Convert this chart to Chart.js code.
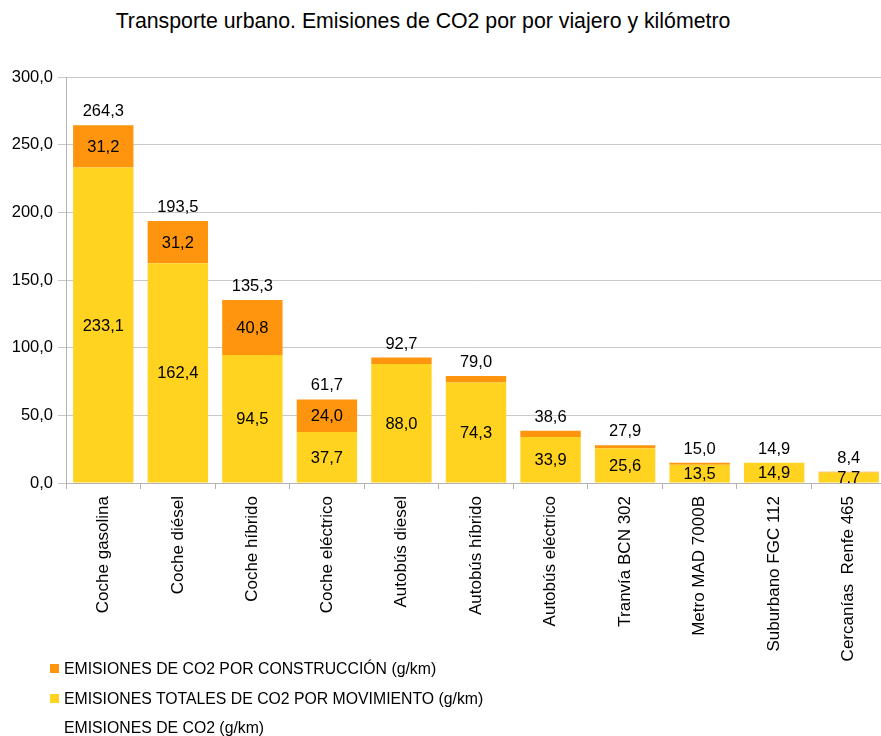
<!DOCTYPE html>
<html lang="es">
<head>
<meta charset="utf-8">
<title>Transporte urbano. Emisiones de CO2</title>
<script src="https://cdn.jsdelivr.net/npm/chart.js@4"></script>
<style>
  html, body { margin: 0; padding: 0; background: #fff; overflow: hidden; }
  body { width: 881px; height: 736px; position: relative; font-family: "Liberation Sans", Arial, sans-serif; color: #000; }
  #titulo { position: absolute; left: 0; top: 9px; width: 846px; text-align: center; font-size: 21.3px; white-space: nowrap; }
  #grafico { position: absolute; left: 0; top: 0; }
  #leyenda { position: absolute; left: 50px; top: 657px; font-size: 15.8px; }
  .item { height: 29.5px; line-height: 24px; white-space: nowrap; }
  .caja { display: inline-block; width: 9px; height: 9px; margin-right: 5px; vertical-align: 1px; }
</style>
</head>
<body>
<div id="titulo">Transporte urbano. Emisiones de CO2 por por viajero y kilómetro</div>
<canvas id="grafico" width="890" height="680"></canvas>
<div id="leyenda"></div>

<script>
const categorias = [
  'Coche gasolina', 'Coche diésel', 'Coche híbrido', 'Coche eléctrico',
  'Autobús diesel', 'Autobús híbrido', 'Autobús eléctrico', 'Tranvía BCN 302',
  'Metro MAD 7000B', 'Suburbano FGC 112', 'Cercanías  Renfe 465'
];
const movimiento   = [233.1, 162.4, 94.5, 37.7, 88.0, 74.3, 33.9, 25.6, 13.5, 14.9, 7.7];
const construccion = [31.2, 31.2, 40.8, 24.0, 4.7, 4.7, 4.7, 2.3, 1.5, 0, 0.7];
const totales      = [264.3, 193.5, 135.3, 61.7, 92.7, 79.0, 38.6, 27.9, 15.0, 14.9, 8.4];
const ticksY = [0, 50, 100, 150, 200, 250, 300];

const AMARILLO = '#ffd320';
const NARANJA = '#ff950e';
const FUENTE = '"Liberation Sans", Arial, sans-serif';

let chart = null;

function fmt(v) {
  return v.toFixed(1).replace('.', ',');
}

// etiquetas de valor dentro y encima de las barras
const etiquetasPlugin = {
  id: 'etiquetas',
  afterDatasetsDraw(c) {
    const ctx = c.ctx;
    const area = c.chartArea;
    const y = c.scales.y;
    ctx.save();
    ctx.font = '16.5px ' + FUENTE;
    ctx.fillStyle = '#000';
    ctx.textAlign = 'center';
    ctx.textBaseline = 'middle';

    ctx.save();
    ctx.beginPath();
    ctx.rect(area.left, area.top, area.right - area.left, area.bottom - area.top);
    ctx.clip();
    [0, 1].forEach(di => {
      const meta = c.getDatasetMeta(di);
      const data = c.data.datasets[di].data;
      meta.data.forEach((bar, i) => {
        if (di === 1 && data[i] < 10) return; // segmentos pequeños sin etiqueta
        ctx.fillText(fmt(data[i]), bar.x, (bar.y + bar.base) / 2 + 1);
      });
    });
    ctx.restore();

    // total encima de cada barra
    ctx.textBaseline = 'alphabetic';
    const metaBar = c.getDatasetMeta(0);
    c.data.datasets[2].data.forEach((v, i) => {
      ctx.fillText(fmt(v), metaBar.data[i].x, y.getPixelForValue(v) - 9);
    });
    ctx.restore();
  }
};

function renderLeyenda() {
  const cont = document.getElementById('leyenda');
  cont.innerHTML = '';
  [1, 0, 2].forEach(di => {
    const ds = chart.data.datasets[di];
    const div = document.createElement('div');
    div.className = 'item';
    const color = ds.legendColor || 'transparent';
    div.innerHTML = `<span class="caja" style="background:${color}"></span>${ds.label}`;
    cont.appendChild(div);
  });
}

function renderChart() {
  const ctx = document.getElementById('grafico').getContext('2d');
  if (chart) chart.destroy();

  chart = new Chart(ctx, {
    type: 'bar',
    data: {
      labels: categorias,
      datasets: [
        {
          label: 'EMISIONES TOTALES DE CO2 POR MOVIMIENTO (g/km)',
          data: movimiento,
          backgroundColor: AMARILLO,
          legendColor: AMARILLO,
          barPercentage: 0.81,
          categoryPercentage: 1.0
        },
        {
          label: 'EMISIONES DE CO2 POR CONSTRUCCIÓN (g/km)',
          data: construccion,
          backgroundColor: NARANJA,
          legendColor: NARANJA,
          barPercentage: 0.81,
          categoryPercentage: 1.0
        },
        {
          type: 'line',
          label: 'EMISIONES DE CO2 (g/km)',
          data: totales,
          showLine: false,
          pointRadius: 0,
          borderColor: 'transparent',
          backgroundColor: 'transparent'
        }
      ]
    },
    options: {
      responsive: false,
      animation: false,
      devicePixelRatio: 1,
      layout: { padding: { top: 77, right: 4, left: 0, bottom: 0 } },
      plugins: {
        legend: { display: false },
        title: { display: false },
        tooltip: { enabled: false }
      },
      scales: {
        x: {
          stacked: true,
          grid: { drawOnChartArea: false, drawTicks: true, tickLength: 6, color: '#b3b3b3' },
          border: { color: '#b3b3b3', width: 1 },
          ticks: {
            color: '#000',
            font: { family: FUENTE, size: 17 },
            minRotation: 90,
            maxRotation: 90,
            padding: 7,
            autoSkip: false
          },
          afterFit: scale => { scale.height = 197; }
        },
        y: {
          stacked: true,
          min: 0,
          max: 300,
          afterBuildTicks: scale => { scale.ticks = ticksY.map(v => ({ value: v })); },
          grid: { color: '#c8c8c8', tickLength: 8, lineWidth: 1 },
          border: { color: '#b3b3b3', width: 1 },
          ticks: {
            color: '#000',
            font: { family: FUENTE, size: 16.5 },
            padding: 5,
            callback: v => fmt(v)
          },
          afterFit: scale => { scale.width = 66; }
        }
      }
    },
    plugins: [etiquetasPlugin]
  });

  renderLeyenda();
}

document.addEventListener('DOMContentLoaded', () => {
  renderChart();
});
</script>
</body>
</html>
